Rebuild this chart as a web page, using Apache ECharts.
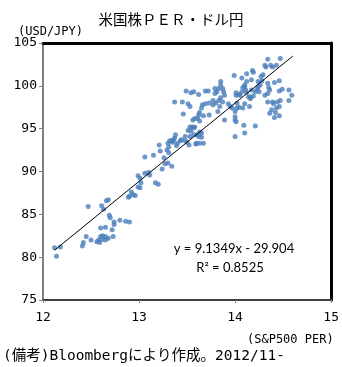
<!DOCTYPE html>
<html><head><meta charset="utf-8">
<script src="https://cdn.jsdelivr.net/npm/echarts@6/dist/echarts.min.js"></script>
<style>html,body{margin:0;padding:0;background:#fff}#c{width:342px;height:367px}</style>
</head><body><div id="c"></div>
<script>
// S&P500 PER (x), USD/JPY (y)
const perX = [12.12,12.18,12.14,12.47,12.61,12.63,12.66,12.68,12.69,12.70,12.74,12.74,12.80,12.86,12.90,12.60,12.65,12.72,12.73,12.45,12.50,12.42,12.41,12.56,12.58,12.60,12.62,12.65,12.65,12.62,12.59,12.68,
12.89,12.92,12.94,12.90,12.96,12.99,13.01,12.99,13.01,13.02,13.06,13.10,13.11,13.17,13.20,13.24,13.27,13.30,13.34,13.06,13.15,13.21,13.22,13.26,13.29,13.31,13.30,13.32,13.34,13.36,13.38,13.37,13.40,13.39,13.31,13.43,13.48,13.50,13.52,13.53,13.54,13.57,13.58,13.53,13.57,13.60,13.63,13.67,13.59,13.62,13.65,13.63,13.51,13.55,13.48,13.65,13.60,13.35,13.44,
13.37,13.45,13.49,13.54,13.57,13.62,13.69,13.72,13.79,13.79,13.81,13.85,13.85,13.87,13.88,13.89,13.85,13.87,13.84,13.80,13.77,13.73,13.69,13.66,13.65,13.53,13.51,13.46,13.63,13.62,13.67,13.73,13.82,13.89,13.58,13.61,13.63,13.56,13.83,13.77,13.83,
13.99,14.07,14.10,14.12,14.12,14.18,14.19,14.17,14.08,14.01,14.05,14.12,14.16,14.19,14.21,14.23,14.26,14.28,14.27,14.29,14.31,14.34,14.32,14.37,14.39,14.43,14.47,14.31,14.34,14.36,14.35,14.34,14.41,14.46,14.46,14.49,14.56,14.59,14.56,14.47,14.44,14.39,14.34,14.40,14.38,14.43,14.42,14.41,14.46,14.36,14.46,14.24,14.10,14.11,14.17,14.24,14.25,14.01,14.04,14.07,14.14,14.16,13.95,13.97,14.02,14.04,14.08,14.15,14.00,14.00,14.00,14.01,14.09,14.21,14.10,14.00,14.02,13.93,14.10];
const usdJpy = [81.1,81.2,80.1,85.9,86.0,85.6,86.6,86.7,84.9,84.6,84.1,83.8,84.3,84.2,84.1,83.4,83.5,83.2,82.4,82.4,82.0,81.7,81.3,81.8,82.0,82.4,82.1,82.0,82.4,82.5,81.7,82.2,
87.0,87.6,87.3,87.1,87.2,89.5,89.2,88.2,88.1,88.7,89.8,89.9,89.6,88.7,88.5,90.3,90.9,91.0,90.6,91.7,91.9,93.1,92.4,91.6,92.5,92.2,93.3,93.6,93.6,93.7,94.3,93.9,93.3,93.0,92.9,93.6,93.6,93.4,93.1,94.1,94.7,95.1,95.2,95.2,94.3,93.3,93.3,93.3,93.2,94.1,94.0,94.6,94.8,95.2,94.1,94.5,94.3,93.4,93.7,
98.1,98.1,99.4,99.2,99.3,99.0,99.4,99.4,99.7,99.1,99.3,100.5,100.1,99.7,99.3,98.9,98.6,98.1,97.6,98.0,97.8,98.0,97.9,97.8,97.4,97.6,97.9,96.7,96.9,96.6,96.5,96.6,97.0,96.0,96.2,96.2,95.9,96.0,99.7,98.3,98.3,
101.2,100.9,100.1,100.5,101.4,101.8,101.6,100.7,99.8,99.2,98.9,99.2,98.7,98.8,99.3,99.6,100.1,100.6,101.1,101.3,102.4,103.1,102.2,102.4,102.2,102.4,103.2,98.9,99.1,99.5,99.8,100.3,100.4,100.6,99.4,99.6,99.5,98.9,98.3,98.3,98.1,98.1,98.1,97.9,97.2,97.4,96.9,96.3,96.5,96.8,97.6,100.5,99.9,99.5,99.5,99.9,99.3,98.9,99.0,99.3,98.7,98.5,97.6,97.4,97.4,97.5,97.4,97.6,97.0,96.4,96.0,95.8,95.4,95.3,94.5,94.1,98.0,97.9,97.9];
const trendX = [12.12, 14.60];
const trendY = [80.81, 103.47];
const xTicks = [12, 13, 14, 15];
const yTicks = [75, 80, 85, 90, 95, 100, 105];
const titleText = '米国株ＰＥＲ・ドル円';
const yName = '(USD/JPY)';
const xName = '(S&P500 PER)';
const eqText = 'y = 9.1349x - 29.904';
const r2Text = 'R² = 0.8525';
const noteText = '(備考)Bloombergにより作成。2012/11-';

const points = perX.map((v, i) => [v, usdJpy[i]]);
const trend = trendX.map((v, i) => [v, trendY[i]]);
const mono = "'DejaVu Sans Mono', 'Noto Sans CJK JP', monospace";

const chart = echarts.init(document.getElementById('c'), null, {renderer: 'canvas'});
chart.setOption({
  animation: false,
  backgroundColor: '#fff',
  grid: {left: 43, top: 43, width: 294, height: 257},
  xAxis: [{
    type: 'value', min: xTicks[0], max: xTicks[xTicks.length - 1], interval: 1,
    axisLine: {show: true, lineStyle: {color: '#404040', width: 2}},
    axisTick: {show: true, length: 3, lineStyle: {color: '#808080'}},
    axisLabel: {color: '#000', fontSize: 13, fontFamily: mono, margin: 11},
    splitLine: {show: false}
  }, {
    type: 'value', position: 'top', min: 12, max: 15,
    axisLine: {show: true, onZero: false, lineStyle: {color: '#000', width: 3}},
    axisTick: {show: false}, axisLabel: {show: false}, splitLine: {show: false}
  }],
  yAxis: [{
    type: 'value', min: yTicks[0], max: yTicks[yTicks.length - 1], interval: 5,
    axisLine: {show: true, lineStyle: {color: '#808080', width: 2}},
    axisTick: {show: true, length: 4, lineStyle: {color: '#808080'}},
    axisLabel: {color: '#000', fontSize: 13, fontFamily: mono, margin: 6},
    splitLine: {show: false}
  }, {
    type: 'value', position: 'right', min: 75, max: 105,
    axisLine: {show: true, onZero: false, lineStyle: {color: '#000', width: 3}},
    axisTick: {show: false}, axisLabel: {show: false}, splitLine: {show: false}
  }],
  series: [{
    type: 'scatter', data: points, symbolSize: 5,
    itemStyle: {color: '#4a7ebb'}
  }, {
    type: 'line', data: trend, symbol: 'none',
    lineStyle: {color: '#000', width: 1}, z: 3
  }],
  graphic: [
    {type: 'text', left: 'center', top: 12, style: {text: titleText, fontSize: 14.5, fontFamily: "'Noto Sans CJK JP'", fill: '#000'}},
    {type: 'text', left: 18, top: 26, style: {text: yName, fontSize: 12, fontFamily: mono, fill: '#000'}},
    {type: 'text', left: 247, top: 334, style: {text: xName, fontSize: 12, fontFamily: mono, fill: '#000'}},
    {type: 'text', left: 3, top: 349, style: {text: noteText, fontSize: 14.5, fontFamily: mono, fill: '#000'}},
    {type: 'text', x: 234, y: 249, style: {text: eqText, fontSize: 13, fontFamily: "'Lato', sans-serif", fill: '#000', align: 'center', verticalAlign: 'middle'}},
    {type: 'text', x: 230, y: 268, style: {text: r2Text, fontSize: 13, fontFamily: "'Lato', sans-serif", fill: '#000', align: 'center', verticalAlign: 'middle'}}
  ]
});
</script></body></html>
